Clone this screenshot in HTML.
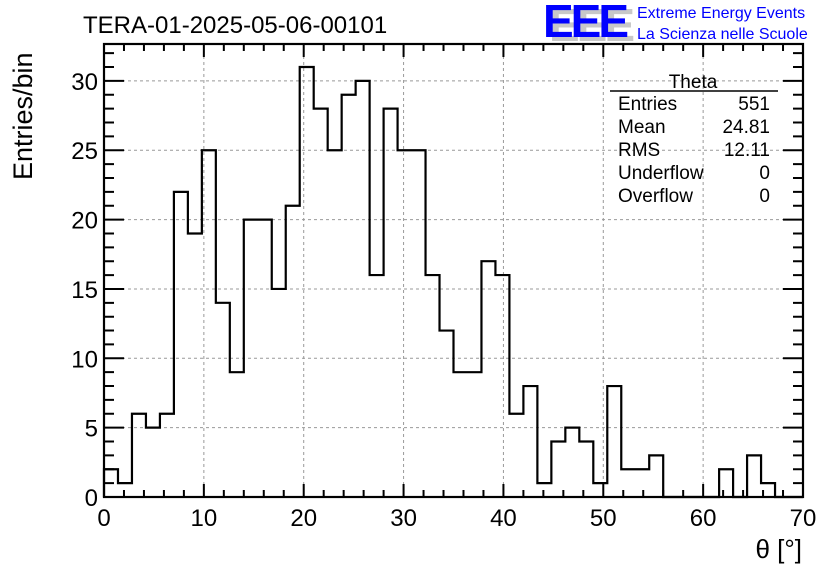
<!DOCTYPE html>
<html><head><meta charset="utf-8"><style>
html,body{margin:0;padding:0;background:#fff;}
svg{display:block;font-family:"Liberation Sans",sans-serif;}
</style></head><body>
<svg id="chart" width="836" height="572" viewBox="0 0 836 572" xmlns="http://www.w3.org/2000/svg">
<rect width="836" height="572" fill="#fff"/>
<g id="grid"></g>
<g id="ticks"></g>
<path id="hist" fill="none" stroke="#000" stroke-width="2.2"/>
<rect x="104" y="44" width="699" height="453" fill="none" stroke="#000" stroke-width="2.2"/>
<g id="labels" font-size="24" fill="#000"></g>
<text x="83" y="33" font-size="24">TERA-01-2025-05-06-00101</text>
<text transform="translate(32,180) rotate(-90)" font-size="27">Entries/bin</text>
<text x="802" y="558" font-size="26" text-anchor="end">θ [°]</text>
<g>
<text x="549" y="41" font-size="46" font-weight="bold" fill="#c8c8c8" letter-spacing="-3">EEE</text>
<text x="543" y="37" font-size="46" font-weight="bold" fill="#0000ff" letter-spacing="-3">EEE</text>
<text x="637" y="18" font-size="16" fill="#0000ff">Extreme Energy Events</text>
<text x="637" y="39" font-size="16" fill="#0000ff">La Scienza nelle Scuole</text>
</g>
<g font-size="19">
<text x="693" y="88" text-anchor="middle">Theta</text>
<line x1="610" y1="91" x2="778" y2="91" stroke="#000" stroke-width="1.5"/>
<text x="618" y="110">Entries</text><text x="770" y="110" text-anchor="end">551</text>
<text x="618" y="133">Mean</text><text x="770" y="133" text-anchor="end">24.81</text>
<text x="618" y="156">RMS</text><text x="770" y="156" text-anchor="end">12.11</text>
<text x="618" y="179">Underflow</text><text x="770" y="179" text-anchor="end">0</text>
<text x="618" y="202">Overflow</text><text x="770" y="202" text-anchor="end">0</text>
</g>
</svg>
<script>
const counts = [2,1,6,5,6,22,19,25,14,9,20,20,15,21,31,28,25,29,30,16,28,25,25,16,12,9,9,17,16,6,8,1,4,5,4,1,8,2,2,3,0,0,0,0,2,0,3,1,0,0];
const binWidth = 1.4;
const xTicks = [0,10,20,30,40,50,60,70];
const yTicks = [0,5,10,15,20,25,30];
const X0=104,X1=803,Y0=497,Y1=44,XMAX=70,YMAX=32.66;
const xs = v => X0 + v/XMAX*(X1-X0);
const ys = v => Y0 - v/YMAX*(Y0-Y1);
const NS="http://www.w3.org/2000/svg";
function mk(tag, attrs, parent){const e=document.createElementNS(NS,tag);for(const k in attrs)e.setAttribute(k,attrs[k]);parent.appendChild(e);return e;}
const grid=document.getElementById('grid'), ticks=document.getElementById('ticks'), labels=document.getElementById('labels');
xTicks.forEach(t=>{
  if(t>0&&t<XMAX){const g=mk('line',{x1:xs(t),x2:xs(t),y1:Y1,y2:Y0,stroke:'#999','stroke-dasharray':'3,3','stroke-width':1},grid);
  
  }
  const l=mk('text',{x:xs(t),y:Y0+29,'text-anchor':'middle'},labels);
  
  
  l.textContent=t;
});
yTicks.forEach(t=>{
  if(t>0){const g=mk('line',{x1:X0,x2:X1,y1:ys(t),y2:ys(t),stroke:'#999','stroke-dasharray':'3,3','stroke-width':1},grid);
  
  }
  const l=mk('text',{x:X0-6,y:ys(t)+9,'text-anchor':'end'},labels);
  
  
  l.textContent=t;
});
let td='';
for(let v=0;v<=XMAX;v+=2){const maj=v%10===0;const L=maj?13:7;const x=xs(v);td+=`M${x},${Y0}v${-L}M${x},${Y1}v${L}`;}
for(let v=0;v<=32;v++){const maj=v%5===0;const L=maj?20:10;const y=ys(v);td+=`M${X0},${y}h${L}M${X1},${y}h${-L}`;}
mk('path',{d:td,stroke:'#000','stroke-width':2,fill:'none'},ticks);
let d=`M${xs(0)},${ys(0)}`;
counts.forEach((c,i)=>{d+=`L${xs(i*binWidth)},${ys(c)}L${xs((i+1)*binWidth)},${ys(c)}`;});
d+=`L${xs(counts.length*binWidth)},${ys(0)}`;
document.getElementById('hist').setAttribute('d',d);
</script>
</body></html>
